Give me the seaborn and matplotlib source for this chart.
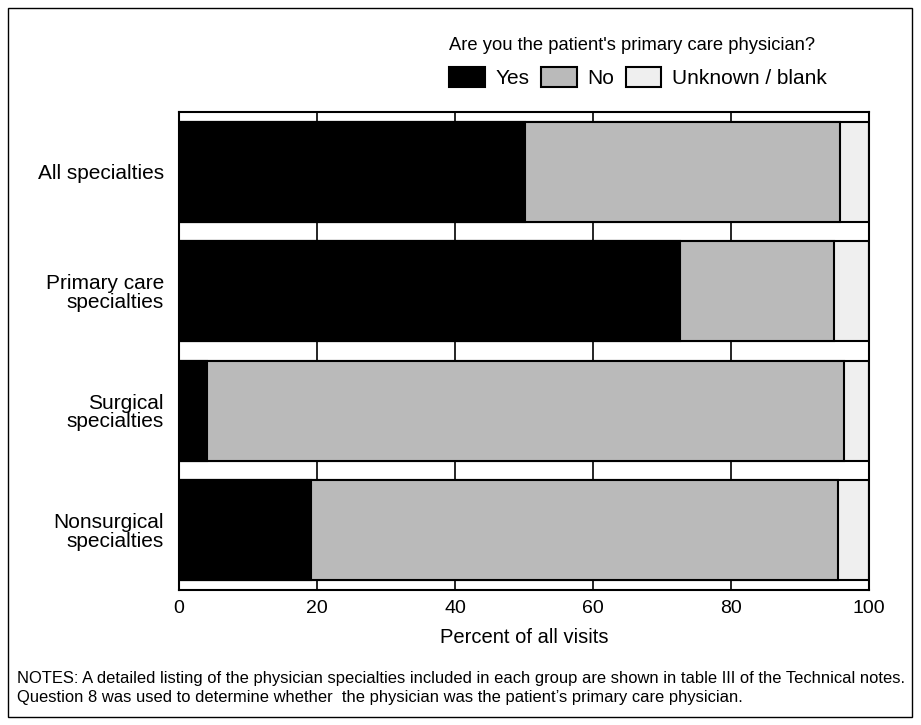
import matplotlib

matplotlib.use("Agg")

import matplotlib.pyplot as plt
import pandas as pd
import seaborn as sns
from matplotlib.patches import Patch, Rectangle

CATEGORIES = ["All specialties", "Primary care\nspecialties", "Surgical\nspecialties", "Nonsurgical\nspecialties"]
YES = [50.1, 72.6, 4.1, 19.1]
NO = [45.7, 22.3, 92.3, 76.4]
UNKNOWN = [4.2, 5.1, 3.6, 4.5]
SERIES = ["Yes", "No", "Unknown / blank"]
COLORS = {"Yes": "#000000", "No": "#bababa", "Unknown / blank": "#efefef"}

XTICKS = [0, 20, 40, 60, 80, 100]

df = pd.DataFrame({"category": CATEGORIES, "Yes": YES, "No": NO, "Unknown / blank": UNKNOWN})
df["cum_yes"] = df["Yes"]
df["cum_no"] = df["cum_yes"] + df["No"]
df["cum_unknown"] = df["cum_no"] + df["Unknown / blank"]

sns.set_style("white")
plt.rcParams["font.family"] = ["Liberation Sans", "DejaVu Sans"]
plt.rcParams["text.color"] = "black"
plt.rcParams["axes.labelcolor"] = "black"
plt.rcParams["xtick.color"] = "black"
plt.rcParams["ytick.color"] = "black"

fig = plt.figure(figsize=(9.21, 7.25), dpi=100)
ax = fig.add_axes([0.1944, 0.1862, 0.7492, 0.6593])

# stacked bars: draw cumulative totals back to front
for col, name in [("cum_unknown", "Unknown / blank"), ("cum_no", "No"), ("cum_yes", "Yes")]:
    sns.barplot(
        data=df,
        x=col,
        y="category",
        orient="h",
        color=COLORS[name],
        edgecolor="black",
        linewidth=1.5,
        width=0.84,
        ax=ax,
        zorder=2,
    )

for x in XTICKS[1:-1]:
    ax.axvline(x, color="black", linewidth=1.2, zorder=0)

ax.set_xlim(0, 100)
ax.set_ylim(3.5, -0.5)
ax.set_xticks(XTICKS)
ax.set_xlabel("Percent of all visits", fontsize=14.5, labelpad=8)
ax.set_ylabel("")
ax.tick_params(axis="x", labelsize=14, length=0, pad=7)
ax.tick_params(axis="y", labelsize=15, length=0, pad=11)
for label in ax.get_yticklabels():
    label.set_linespacing(0.95)
for spine in ax.spines.values():
    spine.set_linewidth(1.5)
    spine.set_color("black")

handles = [Patch(facecolor=COLORS[s], edgecolor="black", linewidth=1.5) for s in SERIES]
fig.legend(
    handles,
    SERIES,
    title="Are you the patient's primary care physician?",
    title_fontsize=13.2,
    fontsize=15,
    ncol=3,
    frameon=False,
    loc="center left",
    alignment="left",
    bbox_to_anchor=(0.4766, 0.9137),
    borderpad=0,
    handlelength=1.7,
    handleheight=1.1,
    handletextpad=0.5,
    columnspacing=0.58,
    labelspacing=0.65,
)

fig.text(
    0.0185, 0.051,
    "NOTES: A detailed listing of the physician specialties included in each group are shown in table III of the Technical notes.\n"
    "Question 8 was used to determine whether  the physician was the patient\u2019s primary care physician.",
    fontsize=11.9,
    va="center",
    linespacing=1.33,
)

fig.patches.append(
    Rectangle((8 / 921, 8 / 725), 904 / 921, 709 / 725, transform=fig.transFigure,
              fill=False, edgecolor="black", linewidth=1)
)

fig.savefig("out.png", dpi=100)
